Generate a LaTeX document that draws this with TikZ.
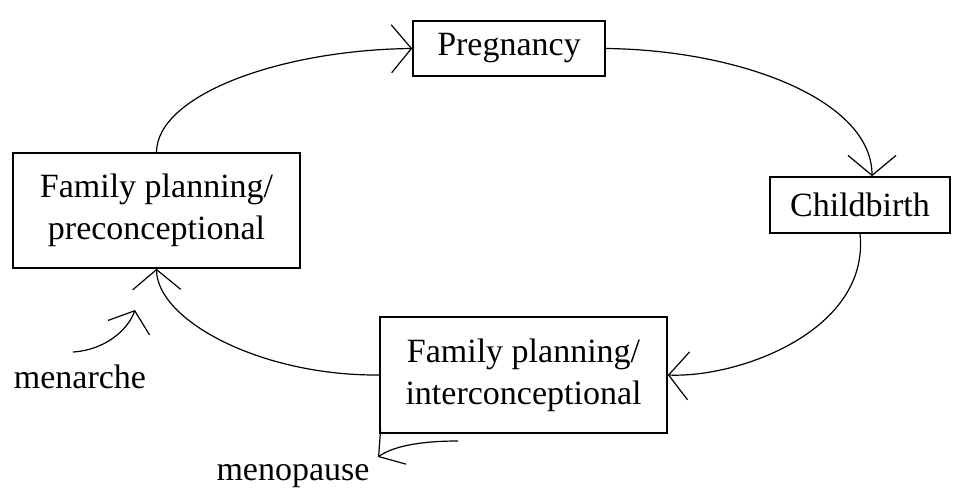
\documentclass[tikz,border=0pt]{standalone}
\usepackage{fontspec}
\setmainfont{Liberation Serif}
\usetikzlibrary{arrows.meta}
\tikzset{
  box/.style={draw, line width=0.8pt, align=center, inner sep=0pt},
  cycarrow/.style={line width=0.6pt, -{Straight Barb[length=10pt,width=24pt,line width=0.6pt]}},
  sidearrow/.style={line width=0.6pt, -{Straight Barb[length=9pt,width=22pt,line width=0.6pt]}}
}
\begin{document}
\begin{tikzpicture}[x=0.5pt, y=-0.5pt, font=\fontsize{17}{21}\selectfont]
\useasboundingbox (0,0) rectangle (961,496);
\node[box, minimum width=96pt, minimum height=27.5pt] (preg) at (509,48.5) {Pregnancy};
\node[box, minimum width=90pt, minimum height=28pt] (birth) at (860,205) {Childbirth};
\node[box, minimum width=143.5pt, minimum height=57.5pt] (fppre) at (156.5,210.5) {Family planning/\\preconceptional};
\node[box, minimum width=143.5pt, minimum height=58pt] (fpinter) at (523.5,375) {Family planning/\\interconceptional};
\node (menarche) at (80,377) {menarche};
\node (menopause) at (293,476) {menopause};
\coordinate (menarche tail) at (73,352);
\coordinate (menarche tip) at (135,310);
\coordinate (menopause tail) at (458,441);
\coordinate (menopause tip) at (378,457);
% the cycle
\draw[cycarrow] (fppre.north) .. controls (157,95) and (280,50) .. (preg.west);
\draw[cycarrow] (preg.east) .. controls (740,50) and (872,100) .. (birth.north -| 872,0);
\draw[cycarrow] (birth.south) .. controls (870,330) and (740,378) .. (fpinter.east);
\draw[cycarrow] (fpinter.west) .. controls (260,376) and (157,320) .. (fppre.south);
% entering and leaving the cycle
\draw[sidearrow] (menarche tail) .. controls (105,350) and (128,330) .. (menarche tip);
\draw[sidearrow] (menopause tail) .. controls (425,441) and (395,445) .. (menopause tip);
\end{tikzpicture}
\end{document}
